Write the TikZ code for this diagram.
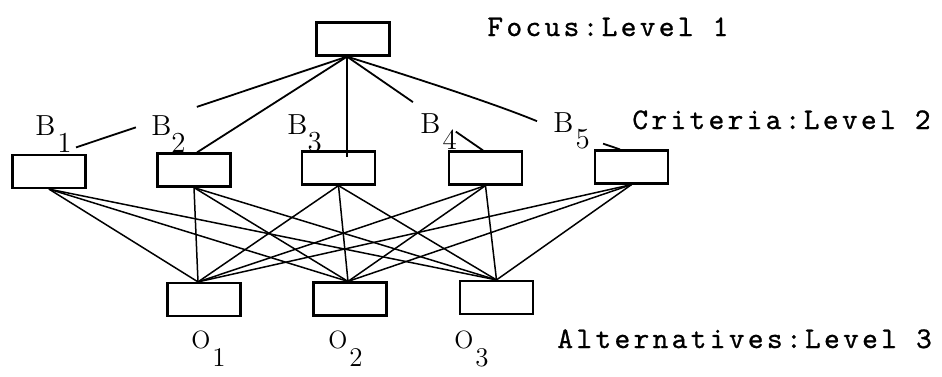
\documentclass[tikz,border=0pt]{standalone}
\usepackage{fontspec}
\newfontfamily\labfont[LetterSpace=11,FakeBold=0.8]{lmmono10-regular.otf}
\usetikzlibrary{calc}
\begin{document}
\begin{tikzpicture}[x=0.5pt,y=-0.5pt,
  box/.style={draw,line width=1.1pt,minimum width=36.5pt,minimum height=16.5pt,inner sep=0pt},
  upper/.style={line width=0.9pt},
  lower/.style={line width=0.75pt},
  lvl/.style={inner sep=0pt,anchor=base west,font=\labfont\fontsize{15}{17}\selectfont},
  blab/.style={inner sep=0pt,anchor=base west,font=\fontsize{14.5}{16}\selectfont},
  olab/.style={inner sep=0pt,anchor=base west}]
\useasboundingbox (0,0) rectangle (942,376);

% boxes
\node[box] (top) at (353,39) {};
\node[box] (b1) at (49,171.5) {};
\node[box] (b2) at (194,170) {};
\node[box] (b3) at (338.5,168) {};
\node[box] (b4) at (485.5,168) {};
\node[box] (b5) at (631.5,167) {};
\node[box] (o1) at (204,299.5) {};
\node[box] (o2) at (350,299) {};
\node[box] (o3) at (496.5,297.5) {};

% anchor points
\coordinate (apex) at ($(top.south)+(-6,0)$);
\coordinate (t1) at ($(b1.north)+(27,-6.5)$);
\coordinate (t2) at ($(b2.north)+(3,0)$);
\coordinate (t3) at ($(b3.north)+(8.5,6.5)$);
\coordinate (t4) at ($(b4.north)+(-2.5,0)$);
\coordinate (t5) at ($(b5.north)+(-11.5,0)$);
\coordinate (o1t) at ($(o1.north)+(-6,0)$);
\coordinate (o2t) at ($(o2.north)+(-2,0)$);
\coordinate (o3t) at (o3.north);

% focus to criteria
\draw[upper] (apex) -- ($(apex)!0.554!(t1)$);
\draw[upper] ($(apex)!0.779!(t1)$) -- (t1);
\draw[upper] (apex) -- (t2);
\draw[upper] (apex) -- (t3);
\draw[upper] (apex) -- ($(apex)!0.485!(t4)$);
\draw[upper] ($(apex)!0.80!(t4)$) -- (t4);
\draw[upper] (apex) .. controls ($(apex)!0.4!(t5)+(0,-3)$) and ($(apex)!0.6!(t5)+(0,-2)$) .. ($(apex)!0.696!(t5)$);
\draw[upper] ($(apex)!0.938!(t5)$) -- (t5);

% criteria to alternatives
\foreach \b in {b1,b2,b3,b4,b5}
  \foreach \o in {o1t,o2t,o3t}
    \draw[lower] (\b.south) -- (\o);

% level labels
\node[lvl] (lf) at (487,36) {Focus:Level 1};
\node[lvl] (lc) at (632,129) {Criteria:Level 2};
\node[lvl] (la) at (557,348) {Alternatives:Level 3};

% criteria labels
\node[blab] (lb1) at (35,135) {B\kern1pt\raisebox{-8.5pt}{1}};
\node[blab] (lb2) at (151,135) {B\raisebox{-8.5pt}{2}};
\node[blab] (lb3) at (287,134) {B\raisebox{-8.5pt}{3}};
\node[blab] (lb4) at (420,133) {B\kern1pt\raisebox{-8pt}{4}};
\node[blab] (lb5) at (553,132) {B\kern1pt\raisebox{-8pt}{5}};

% alternative labels
\node[olab] (lo1) at (191,348) {{\fontsize{12.5}{14}\selectfont O}\kern1pt\raisebox{-9pt}{\fontsize{13.5}{15}\selectfont 1}};
\node[olab] (lo2) at (328,348) {{\fontsize{12.5}{14}\selectfont O}\kern1pt\raisebox{-9pt}{\fontsize{13.5}{15}\selectfont 2}};
\node[olab] (lo3) at (454,348) {{\fontsize{12.5}{14}\selectfont O}\kern1pt\raisebox{-9pt}{\fontsize{13.5}{15}\selectfont 3}};
\end{tikzpicture}
\end{document}
